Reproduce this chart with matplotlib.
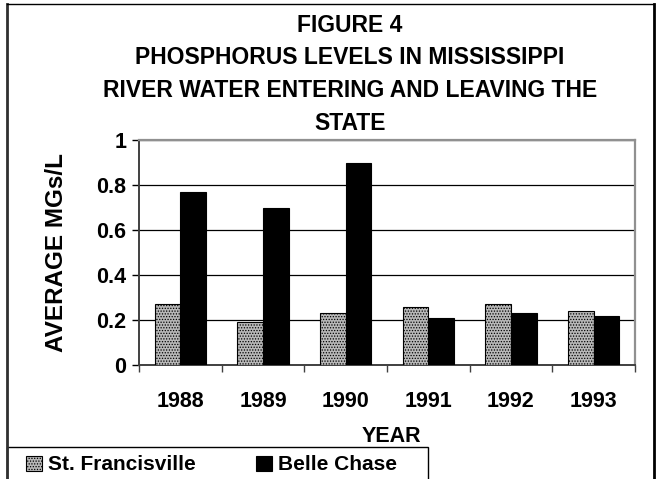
import matplotlib.pyplot as plt
from matplotlib.patches import Rectangle
from matplotlib.lines import Line2D
import numpy as np

plt.rcParams['font.family'] = ['Liberation Sans', 'DejaVu Sans']
plt.rcParams['font.weight'] = 'bold'
plt.rcParams['hatch.linewidth'] = 0.6

years = ['1988', '1989', '1990', '1991', '1992', '1993']
st_francisville = [0.27, 0.19, 0.23, 0.26, 0.27, 0.24]
belle_chase = [0.77, 0.70, 0.90, 0.21, 0.23, 0.22]
series_names = ['St. Francisville', 'Belle Chase']
y_ticks = [0, 0.2, 0.4, 0.6, 0.8, 1.0]
y_tick_labels = ['0', '0.2', '0.4', '0.6', '0.8', '1']

W, H = 660, 479
fig = plt.figure(figsize=(W / 100, H / 100), dpi=100)

# plot area in pixel terms
left, right, top, bottom = 139, 635, 140, 365
ax = fig.add_axes([left / W, 1 - bottom / H, (right - left) / W, (bottom - top) / H])

x = np.arange(len(years))
bw = 0.31
ax.bar(x - bw / 2, st_francisville, bw, facecolor='#b8b8b8', edgecolor='black',
       linewidth=0.8, hatch='......', label=series_names[0], zorder=3)
ax.bar(x + bw / 2, belle_chase, bw, facecolor='black', edgecolor='black',
       linewidth=0.8, label=series_names[1], zorder=3)

ax.set_xlim(-0.5, len(years) - 0.5)
ax.set_ylim(0, 1)
ax.set_yticks(y_ticks)
ax.set_yticklabels(y_tick_labels, fontsize=15.5, fontweight='bold')
ax.set_xticks(x)
ax.set_xticklabels(years, fontsize=15.5, fontweight='bold')
ax.set_xticks(np.arange(len(years) + 1) - 0.5, minor=True)
ax.tick_params(axis='x', which='major', length=0, pad=19)
ax.tick_params(axis='x', which='minor', length=5, width=1, color='#404040')
ax.tick_params(axis='y', length=5, width=1, color='black', pad=4)

ax.grid(axis='y', color='black', linewidth=0.9, zorder=0)
ax.spines['top'].set_color('#909090')
ax.spines['right'].set_color('#909090')
ax.spines['top'].set_linewidth(1.6)
ax.spines['right'].set_linewidth(1.6)
ax.spines['left'].set_color('#404040')
ax.spines['left'].set_linewidth(1.4)
ax.spines['bottom'].set_color('#404040')
ax.spines['bottom'].set_linewidth(1.4)

ax.set_ylabel('AVERAGE MGs/L', fontsize=17.5, fontweight='bold', va='center')
ax.yaxis.set_label_coords((57 - left) / (right - left), 0.5)
ax.set_xlabel('YEAR', fontsize=15.5, fontweight='bold')
ax.xaxis.set_label_coords((391 - left) / (right - left), (bottom - 437) / (bottom - top))
ax.xaxis.label.set_va('center')

title_lines = ['FIGURE 4',
               'PHOSPHORUS LEVELS IN MISSISSIPPI',
               'RIVER WATER ENTERING AND LEAVING THE',
               'STATE']
for i, line in enumerate(title_lines):
    fig.text(350 / W, 1 - (25 + i * 32.7) / H, line, ha='center', va='center',
             fontsize=16.5, fontweight='bold')

# outer border
fig.add_artist(Line2D([7 / W, 7 / W], [0, 1 - 4 / H], color='#303030', linewidth=2))
fig.add_artist(Line2D([7 / W, 654 / W], [1 - 4 / H, 1 - 4 / H], color='black', linewidth=1))
fig.add_artist(Line2D([654 / W, 654 / W], [0, 1 - 4 / H], color='black', linewidth=2))

# legend box
fig.add_artist(Rectangle((7 / W, -0.05), (428 - 7) / W, 0.05 + 1 - 447 / H,
                         transform=fig.transFigure, facecolor='white',
                         edgecolor='black', linewidth=1))
fig.legend(loc='center left', bbox_to_anchor=(16 / W, 1 - 465 / H), ncol=2,
           frameon=False, prop={'size': 15, 'weight': 'bold'},
           handlelength=0.75, handleheight=0.75, handletextpad=0.3,
           columnspacing=2.9, borderpad=0)

fig.savefig('out.png', dpi=100)
